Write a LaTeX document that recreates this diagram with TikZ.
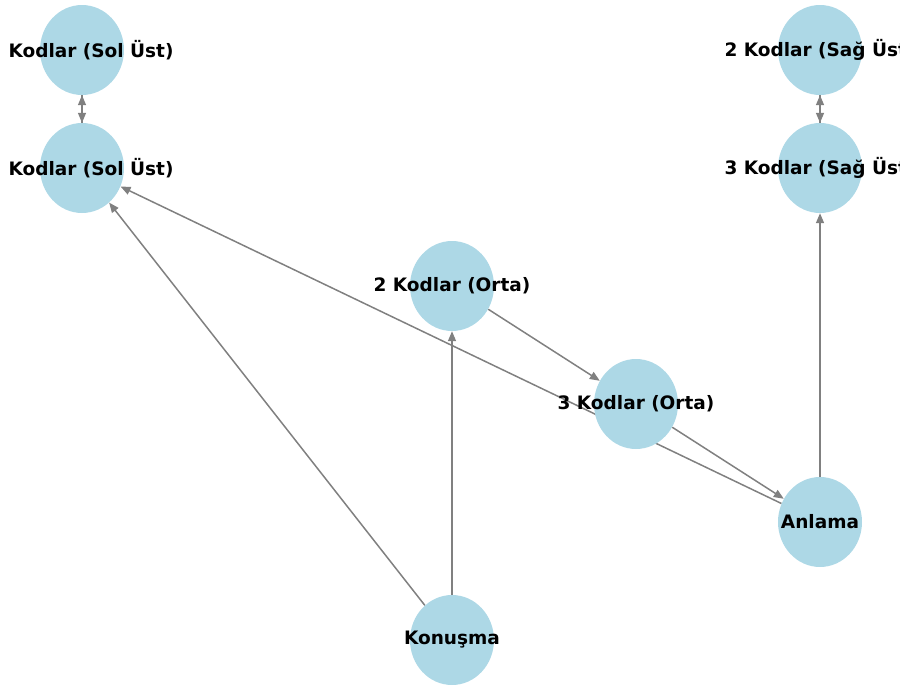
\documentclass[tikz,border=0pt]{standalone}
\usepackage{fontspec}
\setmainfont{DejaVu Sans}
\usetikzlibrary{shapes.geometric, arrows.meta}
\pgfdeclarelayer{bg}
\pgfsetlayers{bg,main}
\definecolor{nodeblue}{RGB}{173,216,230}

\begin{document}
\begin{tikzpicture}[
    x=1pt, y=-1pt,
    blob/.style={ellipse, fill=nodeblue, minimum width=84pt, minimum height=90pt, inner sep=0pt},
    lbl/.style={font=\fontsize{18.5}{21}\selectfont\bfseries, inner sep=0pt},
    circ/.style={blob, label={[lbl]center:#1}},
    arr/.style={-{Triangle[length=10pt, width=8pt]}, line width=1.5pt, gray}
]
\clip (0,0) rectangle (900,688);
\useasboundingbox (0,0) rectangle (900,688);
\node[blob, label={[lbl, xshift=9pt]center:Kodlar (Sol Üst)}] (kodA) at (82,50) {};
\node[blob, label={[lbl, xshift=9pt]center:Kodlar (Sol Üst)}] (kodB) at (82,168) {};
\node[circ={2 Kodlar (Sağ Üst)}] (sag2) at (820,50) {};
\node[circ={3 Kodlar (Sağ Üst)}] (sag3) at (820,168) {};
\node[circ={2 Kodlar (Orta)}] (orta2) at (452,286) {};
\node[circ={3 Kodlar (Orta)}] (orta3) at (636,404) {};
\node[circ={Anlama}] (anlama) at (820,522) {};
\node[circ={Konuşma}] (konusma) at (452,640) {};
\begin{pgfonlayer}{bg}
\draw[arr] (kodA)--(kodB); \draw[arr] (kodB)--(kodA);
\draw[arr] (sag2)--(sag3); \draw[arr] (sag3)--(sag2);
\draw[arr] (anlama)--(sag3);
\draw[arr] (anlama)--(kodB);
\draw[arr] (orta3)--(anlama);
\draw[arr] (orta2)--(orta3);
\draw[arr] (konusma)--(orta2);
\draw[arr] (konusma)--(kodB);
\end{pgfonlayer}
\end{tikzpicture}
\end{document}
